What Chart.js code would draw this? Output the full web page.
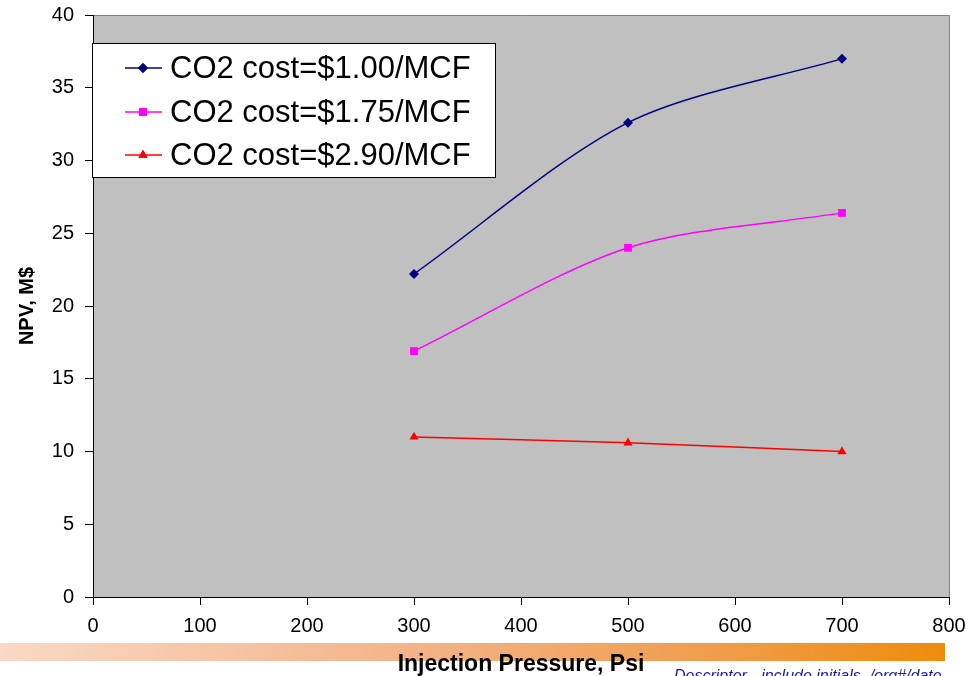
<!DOCTYPE html>
<html>
<head>
<meta charset="utf-8">
<script src="https://cdn.jsdelivr.net/npm/chart.js@4/dist/chart.umd.min.js"></script>
<style>
  html,body{margin:0;padding:0;background:#fff;overflow:hidden}
  #wrap{position:relative;width:979px;height:676px}
</style>
</head>
<body>
<div id="wrap"><canvas id="npv" width="979" height="676"></canvas></div>
<script>
// injection pressure (psi) and NPV (M$) per CO2 price
const pressures = [300, 500, 700];
const npvCost100 = [22.2, 32.6, 37.0];
const npvCost175 = [16.9, 24.0, 26.4];
const npvCost290 = [11.0, 10.6, 10.0];
const seriesLabels = ['CO2 cost=$1.00/MCF', 'CO2 cost=$1.75/MCF', 'CO2 cost=$2.90/MCF'];
const xTitle = 'Injection Pressure, Psi';
const yTitle = 'NPV, M$';
const footNote = 'Descriptor - include initials, /org#/date';

const FONT = "Arial, 'Liberation Sans', sans-serif";

function pts(ys){ return pressures.map((x,i)=>({x, y: ys[i]})); }

// gray plot area, orange strip under the x axis, foot note
const backdrop = {
  id:'backdrop',
  beforeDraw(chart){
    const {ctx, chartArea:a} = chart;
    ctx.save();
    const g = ctx.createLinearGradient(0,0,945,0);
    g.addColorStop(0,'#f9d8c6');
    g.addColorStop(0.45,'#f2b385');
    g.addColorStop(0.75,'#f09d4e');
    g.addColorStop(1,'#ee8c0c');
    ctx.fillStyle = g;
    ctx.fillRect(0,643,945,18);
    ctx.fillStyle = '#c0c0c0';
    ctx.fillRect(a.left,a.top,a.right-a.left,a.bottom-a.top);
    ctx.strokeStyle = '#808080';
    ctx.lineWidth = 1;
    ctx.beginPath();
    ctx.moveTo(a.left, a.top+0.5); ctx.lineTo(a.right+0.5, a.top+0.5); ctx.lineTo(a.right+0.5, a.bottom);
    ctx.stroke();
    ctx.restore();
  },
  afterDraw(chart){
    const ctx = chart.ctx;
    ctx.save();
    ctx.font = 'italic 16px ' + FONT;
    ctx.fillStyle = '#1a1aa6';
    ctx.textBaseline = 'alphabetic';
    ctx.fillText(footNote, 674, 681);
    ctx.restore();
  }
};

// boxed legend inside the plot area
const boxLegend = {
  id:'boxLegend',
  afterDatasetsDraw(chart){
    const ctx = chart.ctx;
    const box = {x:92.5, y:43.5, w:403, h:134};
    ctx.save();
    ctx.fillStyle = '#fff';
    ctx.fillRect(box.x, box.y, box.w, box.h);
    ctx.strokeStyle = '#000';
    ctx.lineWidth = 1;
    ctx.strokeRect(box.x, box.y, box.w, box.h);
    const rows = [68, 112, 155];
    chart.data.datasets.forEach((ds,i)=>{
      const y = rows[i];
      ctx.strokeStyle = ds.borderColor;
      ctx.lineWidth = 1.5;
      ctx.beginPath(); ctx.moveTo(125,y); ctx.lineTo(162,y); ctx.stroke();
      ctx.fillStyle = ds.pointBackgroundColor;
      Chart.helpers.drawPoint(ctx, {pointStyle: ds.pointStyle, radius: ds.pointRadius, borderWidth: 0}, 143, y);
      ctx.fill();
      ctx.fillStyle = '#000';
      ctx.font = '31px ' + FONT;
      ctx.textBaseline = 'middle';
      ctx.fillText(ds.label, 170, y+1);
    });
    ctx.restore();
  }
};

function series(label, ys, color, style, r){
  return {
    label, data: pts(ys),
    borderColor: color, backgroundColor: color,
    pointBackgroundColor: color, pointBorderColor: color,
    pointStyle: style, pointRadius: r, pointBorderWidth: 0,
    borderWidth: 1.5, tension: 0.3, fill: false
  };
}

new Chart(document.getElementById('npv'), {
  type:'line',
  data:{
    datasets:[
      series(seriesLabels[0], npvCost100, '#000080', 'rectRot', 5),
      series(seriesLabels[1], npvCost175, '#ff00ff', 'rect', 5.5),
      series(seriesLabels[2], npvCost290, '#ff0000', 'triangle', 5.3)
    ]
  },
  options:{
    responsive:false,
    animation:false,
    layout:{ padding:{top:15, right:30, left:0, bottom:0} },
    plugins:{ legend:{display:false}, tooltip:{enabled:false} },
    scales:{
      x:{
        type:'linear', min:0, max:800,
        afterFit(s){ s.height = 79; s.paddingLeft = 0; s.paddingRight = 0; },
        ticks:{ stepSize:100, color:'#000', padding:9, maxRotation:0, font:{family:FONT, size:20} },
        grid:{ drawOnChartArea:false, drawTicks:true, tickLength:8, color:'#000' },
        border:{ color:'#000', width:1 },
        title:{ display:true, text:xTitle, color:'#000', padding:{top:0,bottom:0}, font:{family:FONT, size:23, weight:'bold', lineHeight:1.0} }
      },
      y:{
        min:0, max:40,
        afterFit(s){ s.width = 93; s.paddingTop = 0; s.paddingBottom = 0; },
        ticks:{ stepSize:5, color:'#000', padding:11, font:{family:FONT, size:20} },
        grid:{ drawOnChartArea:false, drawTicks:true, tickLength:8, color:'#000' },
        border:{ color:'#000', width:1 },
        title:{ display:true, text:yTitle, color:'#000', padding:{top:15,bottom:0}, font:{family:FONT, size:20, weight:'bold'} }
      }
    }
  },
  plugins:[backdrop, boxLegend]
});
</script>
</body>
</html>
